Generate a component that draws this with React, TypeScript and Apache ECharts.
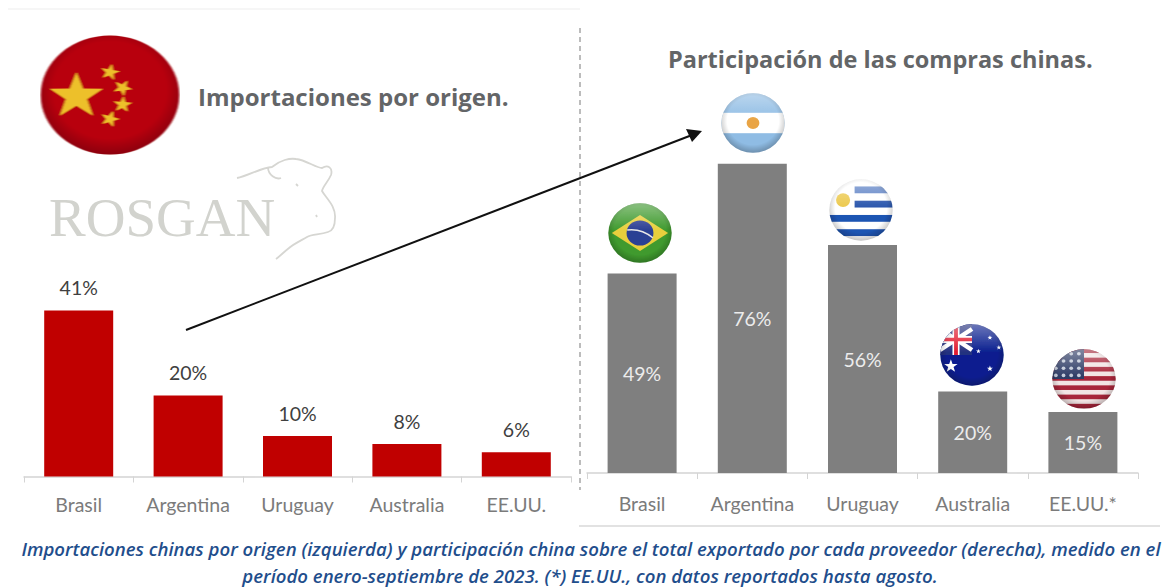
import React, { useEffect, useRef } from "react";
import * as echarts from "echarts";

const leftCategories = ["Brasil", "Argentina", "Uruguay", "Australia", "EE.UU."];
const rightCategories = ["Brasil", "Argentina", "Uruguay", "Australia", "EE.UU.*"];
const leftValues = [41, 20, 10, 8, 6];
const rightValues = [49, 76, 56, 20, 15];
const leftTitle = "Importaciones por origen.";
const rightTitle = "Participación de las compras chinas.";
const noteLine1 = "Importaciones chinas por origen (izquierda) y participación china sobre el total exportado por cada proveedor (derecha), medido en el";
const noteLine2 = "período enero-septiembre de 2023. (*) EE.UU., con datos reportados hasta agosto.";

const FONT = "Lato, 'Open Sans', sans-serif";

function starPts(cx: number, cy: number, r: number, rot = 0) {
  const p: string[] = [];
  for (let i = 0; i < 10; i++) {
    const rad = i % 2 ? r * 0.4 : r;
    const a = -Math.PI / 2 + rot + (i * Math.PI) / 5;
    p.push(`${(cx + rad * Math.cos(a)).toFixed(1)},${(cy + rad * Math.sin(a)).toFixed(1)}`);
  }
  return p.join(" ");
}

function flag(body: string, gloss = true) {
  const svg = `<svg xmlns="http://www.w3.org/2000/svg" width="100" height="100" viewBox="0 0 100 100" preserveAspectRatio="none">
<defs><clipPath id="c"><circle cx="50" cy="50" r="49.5"/></clipPath>
<radialGradient id="edge" cx="50%" cy="46%" r="56%"><stop offset="72%" stop-color="#000" stop-opacity="0"/><stop offset="100%" stop-color="#000" stop-opacity="0.28"/></radialGradient>
<linearGradient id="gloss" x1="0" y1="0" x2="0" y2="1"><stop offset="0" stop-color="#fff" stop-opacity="0.4"/><stop offset="1" stop-color="#fff" stop-opacity="0"/></linearGradient>
<filter id="b" x="-5%" y="-5%" width="110%" height="110%"><feGaussianBlur stdDeviation="0.6"/></filter></defs>
<g filter="url(#b)"><g clip-path="url(#c)">${body}<rect width="100" height="100" fill="url(#edge)"/>${gloss ? '<rect width="100" height="46" fill="url(#gloss)"/>' : ""}</g></g></svg>`;
  return "data:image/svg+xml;charset=utf-8," + encodeURIComponent(svg);
}

const chinaFlag = flag(
  `<rect width="100" height="100" fill="#b8060c"/>
   <polygon fill="#edc02c" points="${starPts(26, 51, 20)}"/>
   <polygon fill="#edc02c" points="${starPts(50, 31, 7, 0.2)}"/>
   <polygon fill="#edc02c" points="${starPts(59, 44, 7, 0.5)}"/>
   <polygon fill="#edc02c" points="${starPts(59, 58, 7, 0.1)}"/>
   <polygon fill="#edc02c" points="${starPts(50, 70, 7, 0.3)}"/>`,
  false
);
const brazilFlag = flag(
  `<rect width="100" height="100" fill="#3f9a2e"/>
   <polygon fill="#e8cf3c" points="6,50 50,20 94,50 50,80"/>
   <circle cx="50" cy="50" r="21" fill="#2c3f94"/>
   <path d="M30 45 Q52 42 70 58" stroke="#e8e8e8" stroke-width="2.5" fill="none"/>`
);
const argentinaFlag = flag(
  `<rect width="100" height="100" fill="#8fbce4"/>
   <rect y="33" width="100" height="34" fill="#fff"/>
   <circle cx="50" cy="50" r="10" fill="#e9a444"/>`
);
const uruguayFlag = flag(
  `<rect width="100" height="100" fill="#fff"/>
   <rect x="40" y="12" width="60" height="11" fill="#5a7fc4"/>
   <rect x="40" y="35" width="60" height="11" fill="#2a56ad"/>
   <rect y="58" width="100" height="11" fill="#1f55b3"/>
   <rect y="81" width="100" height="11" fill="#1f55b3"/>
   <circle cx="22" cy="34" r="11" fill="#ecc94e"/>`
);
const australiaFlag = flag(
  `<rect width="100" height="100" fill="#0a1f8f"/>
   <rect x="0" y="0" width="50" height="50" fill="#24307f"/>
   <path d="M0 8 L50 42 M50 8 L0 42" stroke="#fff" stroke-width="7"/>
   <path d="M25 0 V50 M0 25 H50" stroke="#fff" stroke-width="11"/>
   <path d="M25 0 V50 M0 25 H50" stroke="#e21b30" stroke-width="6"/>
   <polygon fill="#fff" points="${starPts(17, 68, 11)}"/>
   <polygon fill="#fff" points="${starPts(78, 22, 4)}"/>
   <polygon fill="#fff" points="${starPts(60, 44, 4)}"/>
   <polygon fill="#fff" points="${starPts(92, 38, 4)}"/>
   <polygon fill="#fff" points="${starPts(78, 72, 5)}"/>`
);
const usaFlag = flag(
  `<rect width="100" height="100" fill="#f2e4e4"/>
   ${[0, 1, 2, 3, 4, 5, 6].map((i) => `<rect y="${i * 15.4 - 1}" width="100" height="7.7" fill="#a8263a"/>`).join("")}
   <rect width="50" height="50" fill="#2f3c66"/>
   ${[8, 20, 32, 44].flatMap((y) => [6, 18, 30, 42].map((x) => `<circle cx="${x}" cy="${y}" r="3" fill="#c3cad9"/>`)).join("")}`
);

const flagImg = (src: string, cx: number, cy: number, rx: number, ry: number) => ({
  type: "image",
  silent: true,
  style: { image: src, x: cx - rx, y: cy - ry, width: rx * 2, height: ry * 2 },
});

echarts.graphic.registerShape(
  "cowOutline",
  echarts.graphic.extendPath(
    "M237 178 C248 176 260 168 272 167 C280 160 290 158 296 159 C306 160 316 168 322 168 C328 164 333 168 331 175 C328 182 323 186 322 191 C326 198 336 206 335 218 C335 226 332 231 328 232 C320 235 312 234 307 237 C300 241 292 245 289 248 C284 252 280 256 276 259 M268 167 C268 175 276 180 281 178 M296 184 L298 186 M316 215 L317 217",
    {}
  ) as any
);

export default function App() {
  const ref = useRef<HTMLDivElement>(null);
  useEffect(() => {
    const chart = echarts.init(ref.current!, undefined, { renderer: "svg" });
    const baseAxis = {
      type: "category" as const,
      axisLine: { lineStyle: { color: "#d4d4d4", width: 1.5 } },
      axisTick: { show: true, length: 6, lineStyle: { color: "#d4d4d4", width: 1 } },
    };
    const axisLabel = { color: "#7b7b7b", fontFamily: FONT, fontSize: 19.5 };
    const titleStyle = { fontFamily: "'Open Sans', sans-serif", fontWeight: "bold", color: "#636567" };
    chart.setOption({
      animation: false,
      backgroundColor: "#ffffff",
      textStyle: { fontFamily: FONT },
      title: [
        { text: leftTitle, left: 193, top: 79, textStyle: { ...titleStyle, fontSize: 24 } },
        { text: rightTitle, left: 663, top: 42, textStyle: { ...titleStyle, fontSize: 23.5 } },
      ],
      grid: [
        { left: 24, width: 547, top: 274, height: 202.5 },
        { left: 587, width: 551, top: 147.4, height: 325.6 },
      ],
      xAxis: [
        { ...baseAxis, gridIndex: 0, data: leftCategories, axisLabel: { ...axisLabel, margin: 18 } },
        { ...baseAxis, gridIndex: 1, data: rightCategories, axisLabel: { ...axisLabel, margin: 20 } },
      ],
      yAxis: [
        { type: "value", gridIndex: 0, min: 0, max: 50, show: false },
        { type: "value", gridIndex: 1, min: 0, max: 80, show: false },
      ],
      series: [
        {
          type: "bar",
          xAxisIndex: 0,
          yAxisIndex: 0,
          data: leftValues,
          barWidth: 69,
          itemStyle: { color: "#c00000" },
          label: { show: true, position: "top", distance: 13, formatter: "{c}%", color: "#404040", fontFamily: FONT, fontSize: 19.5 },
        },
        {
          type: "bar",
          xAxisIndex: 1,
          yAxisIndex: 1,
          data: rightValues,
          barWidth: 69,
          itemStyle: { color: "#7f7f7f" },
          label: { show: true, position: "inside", formatter: "{c}%", color: "#ececec", fontFamily: FONT, fontSize: 19.5 },
        },
      ],
      graphic: [
        { type: "line", silent: true, shape: { x1: 8, y1: 9, x2: 580, y2: 9 }, style: { stroke: "#f3f3f3", lineWidth: 1.5 } },
        { type: "line", silent: true, shape: { x1: 580, y1: 28, x2: 580, y2: 490 }, style: { stroke: "#a6a6a6", lineWidth: 1.5, lineDash: [5, 4] } },
        { type: "line", silent: true, shape: { x1: 579, y1: 526, x2: 1160, y2: 526 }, style: { stroke: "#d9d9d9", lineWidth: 1.5 } },
        { type: "text", silent: true, style: { text: "ROSGAN", x: 49, y: 217, fontFamily: "'Liberation Serif', serif", fontSize: 55, fill: "#d2d3ce", verticalAlign: "middle" } },
        { type: "cowOutline", silent: true, style: { fill: "none", stroke: "#d6d6d2", lineWidth: 1.8 } },
        { type: "line", silent: true, shape: { x1: 186, y1: 330, x2: 692, y2: 135 }, style: { stroke: "#111111", lineWidth: 2 } },
        { type: "polygon", silent: true, shape: { points: [[702, 131], [686, 129], [692, 142]] }, style: { fill: "#111111" } },
        flagImg(chinaFlag, 110, 95, 70, 60),
        flagImg(brazilFlag, 640, 233, 32, 30),
        flagImg(argentinaFlag, 753, 123, 32, 30),
        flagImg(uruguayFlag, 861, 210, 32, 31),
        flagImg(australiaFlag, 972, 355, 32, 31),
        flagImg(usaFlag, 1084, 379, 32, 30),
        { type: "text", silent: true, style: { text: noteLine1, x: 591, y: 548, align: "center", verticalAlign: "middle", fontFamily: "'Open Sans', sans-serif", fontStyle: "italic", fontWeight: 600, fontSize: 18.6, fill: "#1f4e8c" } },
        { type: "text", silent: true, style: { text: noteLine2, x: 590, y: 575, align: "center", verticalAlign: "middle", fontFamily: "'Open Sans', sans-serif", fontStyle: "italic", fontWeight: 600, fontSize: 18.6, fill: "#1f4e8c" } },
      ],
    });
    return () => chart.dispose();
  }, []);
  return <div ref={ref} style={{ position: "absolute", left: 0, top: 0, width: 1166, height: 588 }} />;
}
